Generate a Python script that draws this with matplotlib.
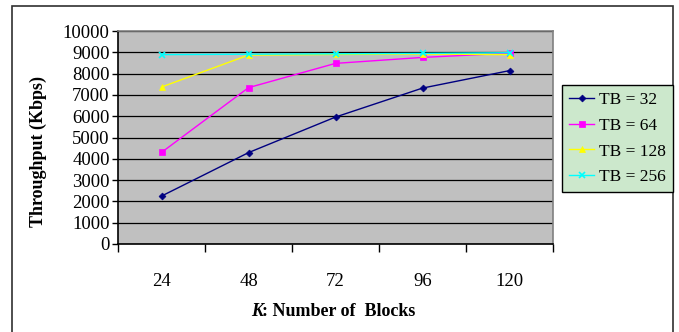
import matplotlib
matplotlib.use("Agg")
import matplotlib.pyplot as plt
from matplotlib.patches import Rectangle
import numpy as np

categories = ["24", "48", "72", "96", "120"]
tb32 = [2250, 4290, 5960, 7320, 8140]
tb64 = [4300, 7340, 8480, 8760, 8960]
tb128 = [7370, 8870, 8900, 8920, 8890]
tb256 = [8890, 8910, 8930, 8950, 8980]
series_labels = ["TB = 32", "TB = 64", "TB = 128", "TB = 256"]

W, H = 679, 332
fig = plt.figure(figsize=(W / 100, H / 100), dpi=100)
plt.rcParams["font.family"] = ["Liberation Serif", "DejaVu Serif"]

# outer chart frame
fig.patches.append(Rectangle((12 / W, -0.05), (673 - 12) / W, 1 - 6 / H + 0.05,
                             transform=fig.transFigure, fill=False,
                             edgecolor="#303030", linewidth=1.2))

left, right, top, bottom = 118, 553, 31, 244
ax = fig.add_axes([left / W, 1 - bottom / H, (right - left) / W, (bottom - top) / H])
ax.set_facecolor("#c0c0c0")

x = np.arange(len(categories))
styles = [
    (tb32, "#000080", "D", 3.5),
    (tb64, "#ff00ff", "s", 4.5),
    (tb128, "#ffff00", "^", 5),
    (tb256, "#00ffff", "x", 5),
]
handles = []
for (vals, col, mk, ms), lab in zip(styles, series_labels):
    h, = ax.plot(x, vals, color=col, marker=mk, markersize=ms, linewidth=1.0,
                 markeredgewidth=1.2 if mk == "x" else 0.5, label=lab, zorder=3)
    handles.append(h)

ax.set_xlim(-0.5, len(categories) - 0.5)
ax.set_ylim(0, 10000)
ax.set_yticks(np.arange(0, 10001, 1000))
ax.yaxis.grid(True, color="black", linewidth=0.9)
ax.set_axisbelow(True)
ax.tick_params(axis="y", labelsize=13.5, length=4, width=1, direction="out", pad=2)

# category ticks on boundaries, labels centered
ax.set_xticks(np.arange(-0.5, len(categories), 1.0))
ax.set_xticklabels([])
ax.set_xticks(x, minor=True)
ax.set_xticklabels(categories, minor=True)
ax.tick_params(axis="x", which="major", length=6, width=1, direction="out")
ax.tick_params(axis="x", which="minor", length=0, labelsize=13.5, pad=21)

for s in ["top", "right"]:
    ax.spines[s].set_color("#808080")
    ax.spines[s].set_linewidth(1.2)
for s in ["left", "bottom"]:
    ax.spines[s].set_color("black")
    ax.spines[s].set_linewidth(1.2)

fig.text(38 / W, 1 - 152 / H, "Throughput (Kbps)", rotation=90, ha="center",
         va="center", fontsize=13, fontweight="bold")
fig.text(251 / W, 1 - 311 / H, "K", ha="left", va="center", fontsize=13,
         fontweight="bold", fontstyle="italic")
fig.text(262 / W, 1 - 311 / H, ": Number of  Blocks", ha="left", va="center",
         fontsize=13, fontweight="bold")

leg = fig.legend(handles=handles, loc="upper left",
                 bbox_to_anchor=(562 / W, 1 - 85 / H), bbox_transform=fig.transFigure,
                 prop={"size": 12.5}, frameon=True, fancybox=False, borderpad=0.4,
                 labelspacing=0.55, handlelength=1.45, handletextpad=0.3,
                 borderaxespad=0)
leg.get_frame().set_facecolor("#cce8cc")
leg.get_frame().set_edgecolor("black")
leg.get_frame().set_linewidth(1.0)
leg.get_frame().set_alpha(1)

fig.savefig("out.png", dpi=100)
